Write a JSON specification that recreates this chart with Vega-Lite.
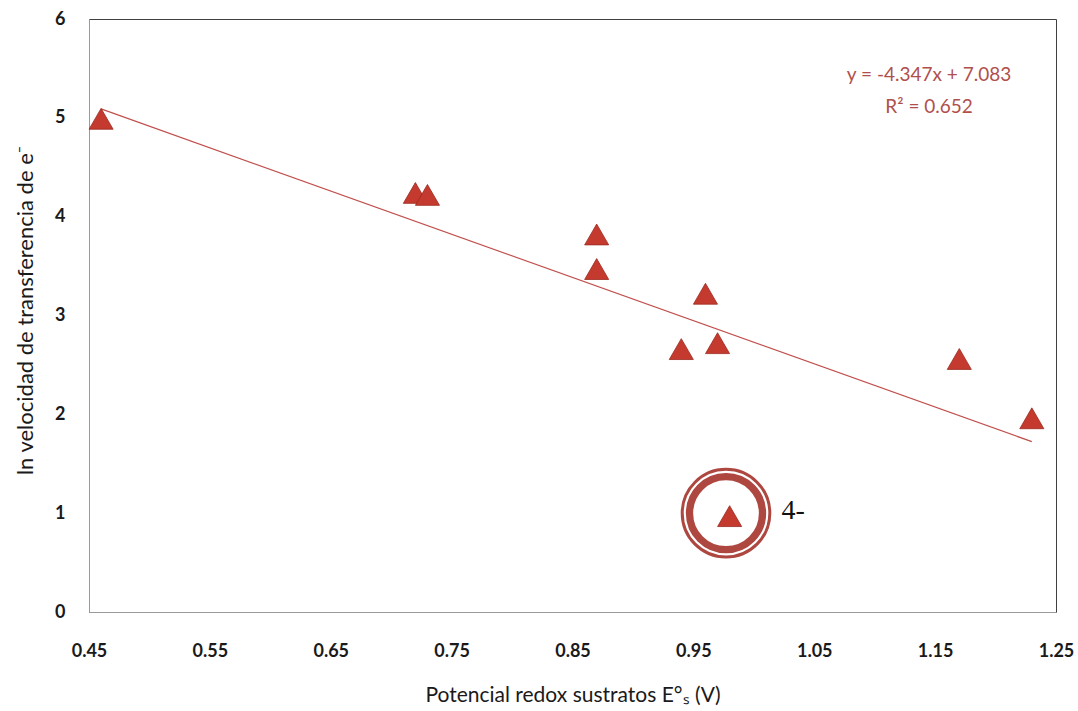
{
  "$schema": "https://vega.github.io/schema/vega-lite/v6.json",
  "width": 967,
  "height": 593,
  "autosize": {"type": "none"},
  "padding": {"left": 89, "top": 19, "right": 22, "bottom": 99},
  "background": "white",
  "config": {
    "view": {"stroke": "#404040", "strokeWidth": 1},
    "font": "Lato",
    "axis": {
      "grid": false,
      "ticks": false,
      "labelFlush": false,
      "domainColor": "#9a9a9a",
      "labelFont": "Lato",
      "labelFontWeight": "bold",
      "labelFontSize": 18,
      "labelColor": "#1a1a1a",
      "titleFont": "Lato",
      "titleFontWeight": "normal",
      "titleColor": "#1a1a1a"
    }
  },
  "datasets": {
    "pts": [
      {"x": 0.46, "y": 4.99},
      {"x": 0.72, "y": 4.24},
      {"x": 0.73, "y": 4.22},
      {"x": 0.87, "y": 3.82},
      {"x": 0.87, "y": 3.47},
      {"x": 0.94, "y": 2.66},
      {"x": 0.96, "y": 3.22},
      {"x": 0.97, "y": 2.72},
      {"x": 0.98, "y": 0.97},
      {"x": 1.17, "y": 2.56},
      {"x": 1.23, "y": 1.96}
    ],
    "ring": [{"x": 0.977, "y": 1.0}],
    "lab": [{"x": 1.023, "y": 0.94, "t": "4-"}],
    "eq": [
      {"x": 1.145, "y": 5.43, "t": "y = -4.347x + 7.083"},
      {"x": 1.145, "y": 5.11, "t": "R² = 0.652"}
    ]
  },
  "layer": [
    {
      "data": {"name": "pts"},
      "transform": [{"regression": "y", "on": "x"}],
      "mark": {"type": "line", "color": "#c0504d", "strokeWidth": 1.2},
      "encoding": {
        "x": {
          "field": "x", "type": "quantitative",
          "scale": {"domain": [0.45, 1.25], "nice": false, "zero": false},
          "axis": {
            "values": [0.45, 0.55, 0.65, 0.75, 0.85, 0.95, 1.05, 1.15, 1.25],
            "format": ".2f",
            "labelPadding": 30,
            "title": "Potencial redox sustratos E°ₛ (V)",
            "titleFontSize": 21,
            "titleBaseline": "middle",
            "titleY": 83
          }
        },
        "y": {
          "field": "y", "type": "quantitative",
          "scale": {"domain": [0, 6], "nice": false},
          "axis": {
            "values": [0, 1, 2, 3, 4, 5, 6],
            "format": "d",
            "labelPadding": 24,
            "title": "ln velocidad de transferencia de e⁻",
            "titleFontSize": 22,
            "titleX": -64,
            "titleY": 291,
            "titleAngle": -90,
            "titleAlign": "center",
            "titleBaseline": "middle"
          }
        }
      }
    },
    {
      "data": {"name": "pts"},
      "mark": {"type": "point", "shape": "triangle-up", "filled": true, "color": "#c53a2e", "opacity": 1, "size": 580, "stroke": "#9b2a20", "strokeWidth": 0.8},
      "encoding": {
        "x": {"field": "x", "type": "quantitative"},
        "y": {"field": "y", "type": "quantitative"}
      }
    },
    {
      "data": {"name": "ring"},
      "mark": {"type": "point", "shape": "circle", "filled": false, "color": "#ad4740", "opacity": 1, "size": 7670, "strokeWidth": 3},
      "encoding": {
        "x": {"field": "x", "type": "quantitative"},
        "y": {"field": "y", "type": "quantitative"}
      }
    },
    {
      "data": {"name": "ring"},
      "mark": {"type": "point", "shape": "circle", "filled": false, "color": "#ad4740", "opacity": 1, "size": 5330, "strokeWidth": 7.3},
      "encoding": {
        "x": {"field": "x", "type": "quantitative"},
        "y": {"field": "y", "type": "quantitative"}
      }
    },
    {
      "data": {"name": "lab"},
      "mark": {"type": "text", "font": "Liberation Serif", "fontSize": 28, "color": "#111111", "align": "left", "baseline": "alphabetic"},
      "encoding": {
        "x": {"field": "x", "type": "quantitative"},
        "y": {"field": "y", "type": "quantitative"},
        "text": {"field": "t"}
      }
    },
    {
      "data": {"name": "eq"},
      "mark": {"type": "text", "font": "Lato", "fontSize": 19, "color": "#b0504d", "align": "center", "baseline": "middle"},
      "encoding": {
        "x": {"field": "x", "type": "quantitative"},
        "y": {"field": "y", "type": "quantitative"},
        "text": {"field": "t"}
      }
    }
  ]
}
